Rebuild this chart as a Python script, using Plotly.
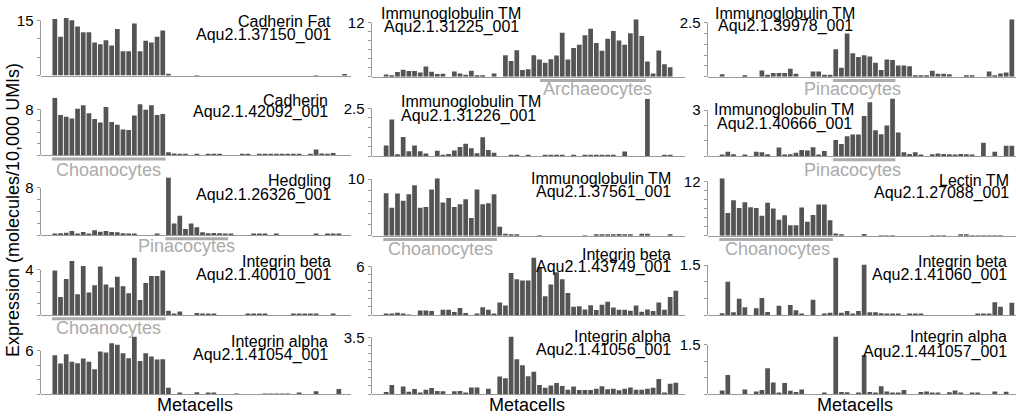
import plotly.graph_objects as go

W, H_FIG = 1016, 420

# Metacell expression profiles (52 metacells per gene), laid out by column then row
cadherin_fat_37150 = [15.4, 10.6, 15.7, 15.1, 13.4, 11.8, 11.8, 9.0, 8.5, 9.6, 8.2, 12.7, 6.6, 6.6, 14.2, 6.6, 9.5, 9.0, 10.6, 12.3,
                      0.5, 0, 0, 0, 0, 0.1, 0, 0, 0, 0, 0, 0, 0, 0, 0, 0, 0, 0, 0, 0, 0, 0, 0, 0, 0, 0, 0.1, 0, 0, 0, 0, 0.35]
cadherin_42092 = [10.0, 7.0, 6.7, 6.4, 8.1, 8.7, 7.3, 6.3, 5.7, 8.4, 5.8, 5.3, 4.5, 4.4, 6.9, 8.9, 7.9, 8.7, 7.0, 7.2,
                  0.55, 0.3, 0.15, 0.15, 0, 0.25, 0, 0.1, 0.1, 0.1, 0, 0, 0, 0.15, 0.15, 0, 0.1, 0.1, 0.1, 0.1, 0.2, 0.15,
                  0.15, 0.15, 0, 0.1, 1.0, 0.3, 0.1, 0.4, 0, 0]
hedgling_26326 = [0.17, 0.28, 0.4, 0.68, 0.17, 0.5, 0.17, 0.8, 0.56, 0.68, 0.5, 0.45, 0.28, 0.22, 0.1, 0, 0, 0, 0.1, 0,
                  9.75, 1.97, 3.27, 1.0, 1.97, 1.3, 0.45, 0.28, 0.34, 0.28, 0.17, 0.1, 0, 0, 0, 0.1, 0.1, 0.1, 0, 0.1,
                  0, 0, 0, 0, 0, 0, 0.17, 0, 0.12, 0.15, 0.1, 0]
integrin_beta_40010 = [3.94, 1.6, 3.2, 4.8, 1.84, 4.35, 2.0, 2.63, 4.3, 2.7, 2.45, 3.4, 2.54, 1.93, 5.1, 1.34, 2.83, 3.45, 3.45, 3.94,
                       0.38, 0.12, 0.3, 0, 0, 0.18, 0.06, 0.06, 0.06, 0, 0, 0, 0, 0, 0.06, 0.06, 0.06, 0.06, 0, 0, 0, 0,
                       0.06, 0.06, 0.06, 0.06, 0.1, 0, 0, 0.05, 0, 0]
integrin_alpha_41054 = [5.4, 4.23, 5.53, 4.5, 4.28, 4.93, 4.5, 3.44, 5.9, 5.77, 7.07, 6.84, 5.67, 4.98, 8.0, 4.6, 5.67, 5.2, 4.8, 4.84,
                        0.88, 0, 0.14, 0, 0, 0.23, 0, 0.14, 0.1, 0, 0, 0, 0.07, 0, 0, 0, 0, 0.07, 0.07, 0.07, 0.07, 0.07,
                        0, 0.14, 0, 0, 0.37, 0, 0, 0, 0.7, 0]
immuno_31225 = [0.5, 0.37, 1.04, 1.56, 1.26, 1.26, 0.96, 2.3, 1.1, 0.6, 0.67, 0, 1.2, 0.74, 0.45, 1.33, 0.3, 0.15, 0, 0.74,
                0, 4.8, 3.5, 5.9, 1.5, 1.7, 4.8, 3.85, 3.1, 3.9, 4.7, 9.78, 3.85, 6.4, 7.1, 9.2, 10.67, 7.48, 5.78, 8.44,
                10.15, 8.07, 7.1, 9.63, 12.74, 9.04, 3.4, 0.75, 5.8, 2.8, 2.1, 0]
immuno_31226 = [0.56, 1.92, 0.1, 1.0, 0.26, 0.56, 0.26, 0.14, 0, 0.28, 0.07, 0.12, 0.3, 0.48, 0.65, 0.42, 0.16, 0.99, 0.32, 0.18,
                0, 0, 0.03, 0.03, 0, 0.03, 0, 0, 0.03, 0.03, 0.03, 0.03, 0, 0.03, 0, 0.03, 0.03, 0.03, 0.05, 0.05,
                0.03, 0, 0.25, 0, 0, 0, 3.0, 0, 0, 0.05, 0.05, 0]
immuno_37561 = [7.5, 4.97, 7.46, 6.2, 7.34, 8.93, 4.97, 5.09, 8.17, 10.18, 5.86, 6.69, 5.09, 5.56, 6.45, 3.14, 8.17, 5.56, 5.74, 7.34,
                1.6, 0.36, 0.1, 0.1, 0, 0, 0, 0.05, 0, 0, 0, 0, 0, 0, 0, 0.05, 0, 0.15, 0.15, 0.15, 0.2, 0.3, 0.25,
                0.2, 0, 0.35, 0.35, 0, 0, 0, 0.1, 0]
integrin_beta_43749 = [0.12, 0.16, 0.28, 0.16, 0.04, 0, 0.57, 0.57, 0.49, 0, 0.65, 0.65, 0.36, 0.85, 0.24, 0, 0.16, 0.97, 0.65, 0.12,
                       1.54, 1.17, 5.18, 4.41, 4.25, 4.25, 7.09, 5.87, 2.3, 3.77, 5.26, 4.41, 2.71, 1.01, 1.09, 0.69, 1.21,
                       0.61, 1.26, 1.62, 0.93, 0.65, 0.65, 0.53, 1.17, 0.4, 0.69, 0.49, 1.54, 0.65, 2.23, 3.0]
integrin_alpha_41056 = [0.12, 0.56, 0, 0.46, 0.14, 0.31, 0.06, 0.27, 0.37, 0.19, 0.17, 0, 0.17, 0.19, 0.1, 0.41, 0.41, 0, 0.33, 0,
                        1.08, 0.97, 3.56, 2.15, 1.78, 1.1, 1.37, 0.56, 0.39, 0.52, 0.68, 0.5, 0.27, 0.46, 0.25, 0.25, 0.25,
                        0.33, 0.48, 0.29, 0.33, 0.23, 0.33, 0.41, 0.27, 0.27, 0.33, 0.39, 0.93, 0.1, 0.64, 0.7]
immuno_39978 = [0.12, 0, 0, 0, 0.06, 0, 0, 0.29, 0.09, 0.17, 0.17, 0.17, 0.37, 0.14, 0, 0, 0.25, 0.25, 0.09, 0.09,
                1.27, 0.42, 2.0, 1.08, 0.91, 0.99, 0.93, 0.65, 0.31, 0.8, 0.77, 0.52, 0.52, 0.49, 0.06, 0.06, 0.05, 0.28,
                0.14, 0.14, 0.12, 0, 0, 0.03, 0.03, 0, 0, 0.25, 0.06, 0.15, 0.2, 2.65]
immuno_40666 = [0.04, 0.27, 0.11, 0, 0.09, 0, 0.27, 0.24, 0.11, 0, 0.56, 0.09, 0.11, 0.22, 0.4, 0.36, 0.58, 0.09, 0.33, 0,
                1.04, 0.78, 1.29, 1.4, 1.4, 2.62, 3.51, 1.69, 1.42, 2.0, 3.76, 1.53, 0.24, 0.13, 0.24, 0.09, 0, 0.11,
                0.16, 0.13, 0.11, 0.09, 0.13, 0.11, 0.09, 0, 0.87, 0, 0.27, 0, 0.67, 0.67]
lectin_27088 = [12.73, 5.05, 7.83, 6.15, 7.39, 6.29, 6.15, 4.39, 7.32, 6.0, 3.51, 4.54, 2.34, 2.34, 6.22, 3.07, 4.61, 6.88, 6.88, 3.44,
                0.51, 0.22, 0, 0, 0, 0.37, 0, 0, 0.05, 0.05, 0.05, 0, 0, 0, 0, 0, 0, 0.05, 0.05, 0.05, 0, 0, 0.12, 0.12,
                0.05, 0.05, 0.05, 0.05, 0.05, 0.05, 0, 0]
integrin_beta_41060 = [0.05, 1.0, 0.08, 0.49, 0.23, 0, 0.2, 0.51, 0.09, 0, 0.28, 0, 0.3, 0.14, 0.02, 0, 0.46, 0, 0.04, 0.07,
                       1.73, 0.07, 0.12, 0.03, 0.12, 1.51, 0.08, 0.08, 0.05, 0.04, 0.02, 0.02, 0, 0.04, 0.04, 0.02, 0, 0,
                       0, 0, 0, 0, 0, 0, 0, 0.02, 0.02, 0.02, 0.38, 0.25, 0, 0.37]
integrin_alpha_441057 = [0.11, 0.58, 0, 0, 0.14, 0, 0.08, 0.12, 0.79, 0.35, 0.04, 0.34, 0.1, 0.06, 0.14, 0, 0, 0, 0.03, 0,
                         1.76, 0.06, 0.05, 0, 0.03, 1.19, 0.06, 0.03, 0.24, 0.08, 0.03, 0.03, 0.12, 0, 0, 0.06, 0.08, 0.03,
                         0.03, 0, 0.05, 0.11, 0.03, 0, 0.03, 0.03, 0, 0, 0.08, 0, 0.07, 0]

series = [
    [cadherin_fat_37150, cadherin_42092, hedgling_26326, integrin_beta_40010, integrin_alpha_41054],
    [immuno_31225, immuno_31226, immuno_37561, integrin_beta_43749, integrin_alpha_41056],
    [immuno_39978, immuno_40666, lectin_27088, integrin_beta_41060, integrin_alpha_441057],
]
gene_names = [
    ["Cadherin Fat", "Cadherin", "Hedgling", "Integrin beta", "Integrin alpha"],
    ["Immunoglobulin TM", "Immunoglobulin TM", "Immunoglobulin TM", "Integrin beta", "Integrin alpha"],
    ["Immunoglobulin TM", "Immunoglobulin TM", "Lectin TM", "Integrin beta", "Integrin alpha"],
]
gene_ids = [
    ["Aqu2.1.37150_001", "Aqu2.1.42092_001", "Aqu2.1.26326_001", "Aqu2.1.40010_001", "Aqu2.1.41054_001"],
    ["Aqu2.1.31225_001", "Aqu2.1.31226_001", "Aqu2.1.37561_001", "Aqu2.1.43749_001", "Aqu2.1.41056_001"],
    ["Aqu2.1.39978_001", "Aqu2.1.40666_001", "Aqu2.1.27088_001", "Aqu2.1.41060_001", "Aqu2.1.441057_001"],
]
# (top labelled tick, tick step)
y_ticks = [
    [(15, 5), (8, 2), (8, 2), (4, 1), (6, 2)],
    [(12, 2), (2.5, 0.5), (10, 2), (6, 1), (3.5, 0.5)],
    [(2.5, 0.5), (3, 1), (12, 2), (1.5, 0.5), (1.5, 0.5)],
]
# cell-type groups: (col, row, label, first metacell, last metacell)
cell_groups = [
    (0, 1, "Choanocytes", 0, 19),
    (0, 2, "Pinacocytes", 20, 30),
    (0, 3, "Choanocytes", 0, 19),
    (1, 0, "Archaeocytes", 27.6, 45.2),
    (1, 2, "Choanocytes", 0, 19),
    (2, 0, "Pinacocytes", 20, 30),
    (2, 1, "Pinacocytes", 20, 30),
    (2, 2, "Choanocytes", 0, 19),
]

# ---- layout geometry (pixels) ----
BAR_W = 5.68
col_geom = [  # left edge of axis, left edge of first bar, right edge
    (40.5, 52.0, 350.5),
    (371.5, 383.3, 685.0),
    (707.5, 719.3, 1016.0),
]
baselines = [
    [75.5, 155.3, 235.0, 315.0, 394.0],
    [76.8, 156.2, 235.7, 315.0, 394.0],
    [76.8, 156.0, 235.7, 315.0, 394.0],
]
PANEL_H = 57.5
# text placement for each panel: (anchor, x px, y px of line 1, y px of line 2)
label_pos = [
    [("right", 333, 21.7, 35.0), ("right", 330, 100.0, 111.7), ("right", 333, 180.7, 195.0),
     ("right", 333, 261.0, 275.0), ("right", 330, 341.7, 355.0)],
    [("center", 451, 13.3, 27.3), ("left", 399, 101.7, 115.7), ("right", 673, 178.3, 191.7),
     ("right", 673, 255.0, 267.3), ("right", 673, 336.7, 350.0)],
    [("center", 785, 13.3, 25.7), ("center", 784, 110.0, 124.3), ("right", 1011, 180.7, 193.3),
     ("right", 1009, 261.7, 275.0), ("right", 1009, 336.7, 351.7)],
]
group_label_pos = [(108, 170), (186, 246), (108, 328), (597, 89), (440, 249), (852, 89), (852, 170), (777, 249)]

BAR_COLOR = "#545454"
AXIS_COLOR = "#9a9a9a"
GROUP_COLOR = "#ababab"
FONT = "Liberation Sans, Arial, Helvetica, sans-serif"

fig = go.Figure()
layout = dict(
    width=W, height=H_FIG, autosize=False,
    margin=dict(l=0, r=0, t=0, b=0, pad=0, autoexpand=False),
    paper_bgcolor="white", plot_bgcolor="white",
    showlegend=False, bargap=0.17,
    font=dict(family=FONT, color="black"),
)
shapes, annotations = [], []
metacells = list(range(52))


def px_x(p):
    return p / W


def px_y(p):
    return 1 - p / H_FIG


k = 0
axis_ids = {}
for c in range(3):
    L, B0, R = col_geom[c]
    x_lo = -0.5 - (B0 - L) / BAR_W
    x_hi = -0.5 + (R - B0) / BAR_W
    for r in range(5):
        k += 1
        sfx = "" if k == 1 else str(k)
        axis_ids[(c, r)] = sfx
        vals = series[c][r]
        top, step = y_ticks[c][r]
        ymax = max(vals)
        b = baselines[c][r]
        fig.add_trace(go.Bar(x=metacells, y=vals, marker=dict(color=BAR_COLOR, line=dict(width=0)),
                             xaxis="x" + sfx, yaxis="y" + sfx, hoverinfo="skip"))
        n = int(round(top / step))
        tv = [round(i * step, 3) for i in range(n + 1)]
        tt = [""] * n + [("%g" % top)]
        layout["xaxis" + sfx] = dict(
            domain=[px_x(L), px_x(R)], anchor="y" + sfx, range=[x_lo, x_hi],
            showticklabels=False, ticks="", showgrid=False, zeroline=False,
            showline=True, linecolor=AXIS_COLOR, linewidth=1, fixedrange=True,
        )
        layout["yaxis" + sfx] = dict(
            domain=[px_y(b), px_y(b - PANEL_H)], anchor="x" + sfx, range=[0, ymax],
            tickmode="array", tickvals=tv, ticktext=tt, ticks="outside", ticklen=3,
            tickcolor=AXIS_COLOR, tickwidth=1, showgrid=False, zeroline=False, showline=False,
            tickfont=dict(size=15, family=FONT, color="black"), fixedrange=True,
        )
        # y axis spine running from 0 to the labelled tick
        shapes.append(dict(type="line", xref="x" + sfx + " domain", yref="y" + sfx,
                           x0=0, x1=0, y0=0, y1=top, line=dict(color=AXIS_COLOR, width=1)))
        # gene name and identifier
        anc, lx, ly1, ly2 = label_pos[c][r]
        for txt, ly in ((gene_names[c][r], ly1), (gene_ids[c][r], ly2)):
            annotations.append(dict(text=txt, xref="paper", yref="paper", x=px_x(lx), y=px_y(ly),
                                    xanchor=anc, yanchor="middle", showarrow=False,
                                    font=dict(size=16, family=FONT, color="black")))

for (c, r, name, i0, i1), (gx, gy) in zip(cell_groups, group_label_pos):
    sfx = axis_ids[(c, r)]
    b = baselines[c][r]
    shapes.append(dict(type="line", xref="x" + sfx, yref="paper", x0=i0 - 0.5, x1=i1 + 0.5,
                       y0=px_y(b + 3.8), y1=px_y(b + 3.8), line=dict(color=GROUP_COLOR, width=3)))
    annotations.append(dict(text=name, xref="paper", yref="paper", x=px_x(gx), y=px_y(gy),
                            xanchor="center", yanchor="middle", showarrow=False,
                            font=dict(size=18, family=FONT, color=GROUP_COLOR)))

for cx in (195, 527, 855):
    annotations.append(dict(text="Metacells", xref="paper", yref="paper", x=px_x(cx), y=px_y(405),
                            xanchor="center", yanchor="middle", showarrow=False,
                            font=dict(size=18, family=FONT, color="black")))

annotations.append(dict(text="Expression (molecules/10,000 UMIs)", xref="paper", yref="paper",
                        x=px_x(13), y=px_y(210), xanchor="center", yanchor="middle", textangle=-90,
                        showarrow=False, font=dict(size=18, family=FONT, color="black")))

layout["shapes"] = shapes
layout["annotations"] = annotations
fig.update_layout(**layout)
fig.write_html("out.html")
